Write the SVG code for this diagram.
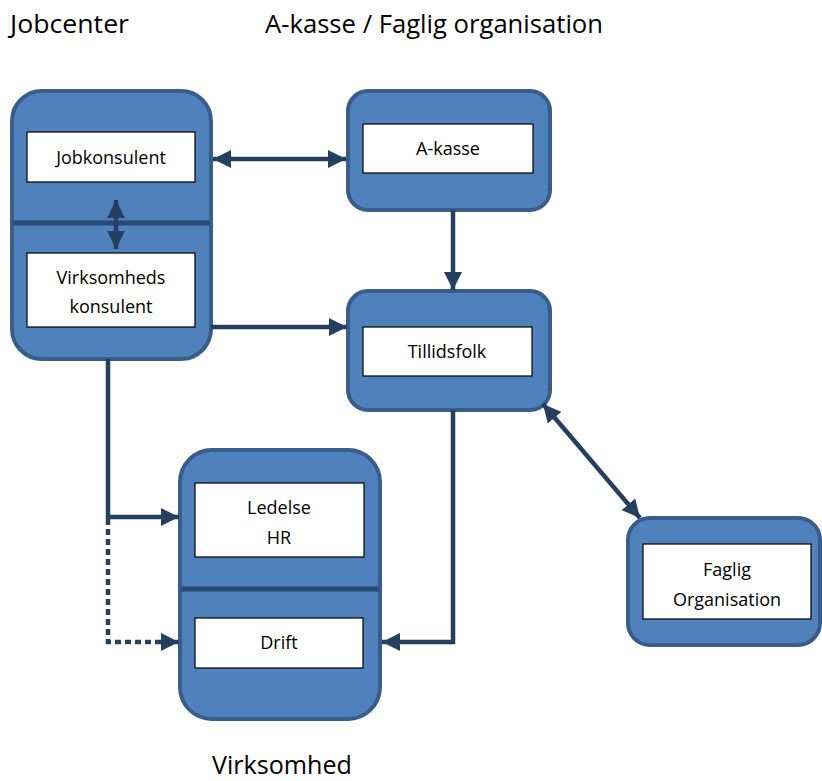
<svg xmlns="http://www.w3.org/2000/svg" width="822" height="781" viewBox="0 0 822 781">
<style>
.box{fill:#4f81bd;stroke:#385d8a;stroke-width:4}
.inner{fill:#ffffff;stroke:#000000;stroke-width:1.2}
.div{stroke:#284a73;stroke-width:5}
.lbl{font-family:"Open Sans","Liberation Sans",sans-serif;font-size:18px;fill:#000;text-anchor:middle}
.title{font-family:"Open Sans","Liberation Sans",sans-serif;font-size:25px;fill:#000}
.c{fill:none;stroke:#243f60;stroke-width:4.5}
</style>
<defs>
<marker id="ah" viewBox="0 0 10 10" refX="10" refY="5" markerWidth="4" markerHeight="4" markerUnits="strokeWidth" orient="auto-start-reverse">
<path d="M0,0 L10,5 L0,10 z" fill="#243f60"/>
</marker>
</defs>
<text class="title" x="10" y="33" textLength="119" lengthAdjust="spacingAndGlyphs">Jobcenter</text>
<text class="title" x="265" y="33" textLength="338" lengthAdjust="spacingAndGlyphs">A-kasse / Faglig organisation</text>
<text class="title" x="212" y="774" textLength="140" lengthAdjust="spacingAndGlyphs">Virksomhed</text>

<g id="jobcenter">
<rect class="box" x="12" y="91" width="199" height="268" rx="30"/>
<line class="div" x1="13" y1="223" x2="210" y2="223"/>
<rect class="inner" x="27" y="132" width="168" height="50"/>
<text class="lbl" x="111" y="164">Jobkonsulent</text>
<rect class="inner" x="27" y="253" width="168" height="74"/>
<text class="lbl" x="111" y="284">Virksomheds</text>
<text class="lbl" x="111" y="313">konsulent</text>
</g>

<g id="akasse">
<rect class="box" x="348" y="91" width="202" height="119" rx="20"/>
<rect class="inner" x="363" y="124" width="170" height="49"/>
<text class="lbl" x="448" y="155">A-kasse</text>
</g>

<g id="tillidsfolk">
<rect class="box" x="348" y="291" width="202" height="119" rx="20"/>
<rect class="inner" x="363" y="327" width="169" height="49"/>
<text class="lbl" x="447" y="358">Tillidsfolk</text>
</g>

<g id="virksomhed">
<rect class="box" x="180" y="450" width="200" height="269" rx="32"/>
<line class="div" x1="181" y1="589" x2="379" y2="589"/>
<rect class="inner" x="195" y="483" width="169" height="74"/>
<text class="lbl" x="279" y="514">Ledelse</text>
<text class="lbl" x="279" y="544">HR</text>
<rect class="inner" x="195" y="618" width="168" height="50"/>
<text class="lbl" x="279" y="649">Drift</text>
</g>

<g id="faglig">
<rect class="box" x="628" y="518" width="192" height="127" rx="22"/>
<rect class="inner" x="643" y="544" width="168" height="75"/>
<text class="lbl" x="727" y="576">Faglig</text>
<text class="lbl" x="727" y="606">Organisation</text>
</g>

<g id="connectors">
<line class="c" x1="213" y1="159" x2="346" y2="159" marker-start="url(#ah)" marker-end="url(#ah)"/>
<line class="c" x1="116" y1="200" x2="116" y2="249" marker-start="url(#ah)" marker-end="url(#ah)"/>
<line class="c" x1="211" y1="327" x2="347" y2="327" marker-end="url(#ah)"/>
<line class="c" x1="453" y1="210" x2="453" y2="290" marker-end="url(#ah)"/>
<polyline class="c" points="108,359 108,517 179,517" marker-end="url(#ah)"/>
<polyline class="c" points="108,519 108,642 179,642" stroke-dasharray="6,4" marker-end="url(#ah)"/>
<polyline class="c" points="453,410 453,642 382,642" marker-end="url(#ah)"/>
<line class="c" x1="543" y1="404" x2="640" y2="518" marker-start="url(#ah)" marker-end="url(#ah)"/>
</g>
</svg>
